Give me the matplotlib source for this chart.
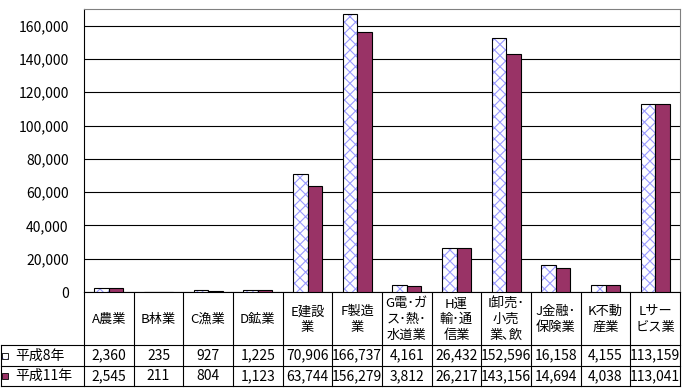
import matplotlib
matplotlib.use("Agg")
import matplotlib.pyplot as plt
from matplotlib.patches import Rectangle
from matplotlib.lines import Line2D
from matplotlib import transforms

plt.rcParams['font.family'] = ['Noto Sans CJK JP', 'DejaVu Sans']
plt.rcParams['hatch.linewidth'] = 0.8

# données
categories = ["A農業", "B林業", "C漁業", "D鉱業", "E建設\n業", "F製造\n業",
              "G電･ガ\nス･熱･\n水道業", "H運\n輸･通\n信業", "I卸売･\n小売\n業､飲",
              "J金融･\n保険業", "K不動\n産業", "Lサー\nビス業"]
series_names = ["平成8年", "平成11年"]
h8 = [2360, 235, 927, 1225, 70906, 166737, 4161, 26432, 152596, 16158, 4155, 113159]
h11 = [2545, 211, 804, 1123, 63744, 156279, 3812, 26217, 143156, 14694, 4038, 113041]
yticks = [0, 20000, 40000, 60000, 80000, 100000, 120000, 140000, 160000]

W, H = 685, 389
fig = plt.figure(figsize=(W / 100, H / 100), dpi=100)

# zone du graphique (en pixels)
x0, x1, ytop, ybot = 84, 680, 9, 292
ax = fig.add_axes([x0 / W, 1 - ybot / H, (x1 - x0) / W, (ybot - ytop) / H])

# calque en pixels pour le tableau
ov = fig.add_axes([0, 0, 1, 1], zorder=-1)
ov.set_xlim(0, W)
ov.set_ylim(H, 0)
ov.axis('off')

n = len(categories)
xs = [i + 0.5 for i in range(n)]
bw = 0.29
hatch_col = '#9999ff'
maroon = '#993366'

xa = [x - bw / 2 for x in xs]
xb = [x + bw / 2 for x in xs]
ax.bar(xa, h8, width=bw, color='white', edgecolor=hatch_col, hatch='xxx', linewidth=0, zorder=3)
ax.bar(xa, h8, width=bw, fill=False, edgecolor='black', linewidth=0.8, zorder=4)
ax.bar(xb, h11, width=bw, color=maroon, edgecolor='black', linewidth=0.8, zorder=4)

ax.set_xlim(0, n)
ax.set_ylim(0, 170000)
ax.set_yticks(yticks)
ax.set_yticklabels([f"{v:,}" for v in yticks], fontsize=10)
ax.set_xticks([])
ax.tick_params(axis='y', length=0, pad=11)
ax.yaxis.grid(True, color='black', linewidth=0.8)
ax.set_axisbelow(True)
for side in ['top', 'right']:
    ax.spines[side].set_color('#808080')
    ax.spines[side].set_linewidth(0.8)
ax.spines['left'].set_linewidth(0.8)
ax.spines['bottom'].set_linewidth(0.8)

# tableau de données
tr = transforms.blended_transform_factory(ax.transData, ov.transData)
row_y = [ybot, 345, 366, 386]
lw = 0.8
kw = dict(color='black', linewidth=lw)
for i in range(n + 1):
    ov.add_line(Line2D([i, i], [row_y[0], row_y[-1]], transform=tr, **kw))
for y in row_y[1:]:
    ov.add_line(Line2D([1, x1], [y, y], **kw))
ov.add_line(Line2D([1, 1], [row_y[1], row_y[-1]], **kw))

for i, lab in enumerate(categories):
    ov.text(xs[i], (row_y[0] + row_y[1]) / 2 + 1, lab, transform=tr, ha='center', va='center',
            fontsize=9.5, linespacing=1.25)
    ov.text(xs[i], (row_y[1] + row_y[2]) / 2, f"{h8[i]:,}", transform=tr, ha='center', va='center', fontsize=10)
    ov.text(xs[i], (row_y[2] + row_y[3]) / 2, f"{h11[i]:,}", transform=tr, ha='center', va='center', fontsize=10)

# légende dans le tableau
for r, name in enumerate(series_names):
    yc = (row_y[r + 1] + row_y[r + 2]) / 2
    if r == 0:
        ov.add_patch(Rectangle((2.5, yc - 3), 6, 6, facecolor='white', edgecolor=hatch_col, hatch='xxx', linewidth=0))
        ov.add_patch(Rectangle((2.5, yc - 3), 6, 6, fill=False, edgecolor='black', linewidth=0.6))
    else:
        ov.add_patch(Rectangle((2.5, yc - 3), 6, 6, facecolor=maroon, edgecolor='black', linewidth=0.6))
    ov.text(15, yc, name, ha='left', va='center', fontsize=10)

fig.savefig("out.png", dpi=100)
